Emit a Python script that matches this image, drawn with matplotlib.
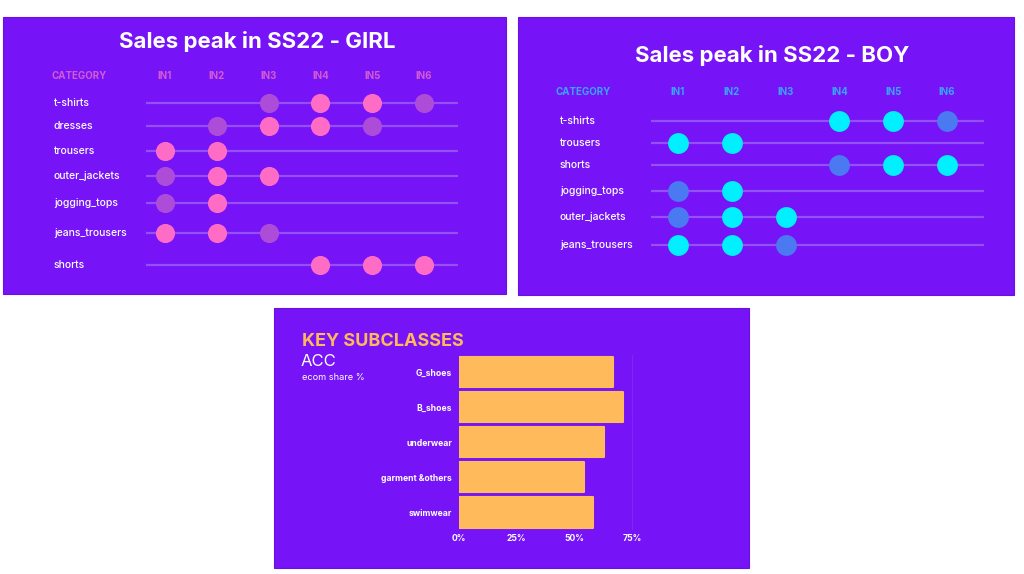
import matplotlib.pyplot as plt
from matplotlib.patches import Rectangle
from matplotlib.transforms import blended_transform_factory

plt.rcParams['font.family'] = ['Inter', 'DejaVu Sans']

# DATA
intervals = ["IN1", "IN2", "IN3", "IN4", "IN5", "IN6"]

# 2 = sales peak, 1 = weaker peak, 0 = nothing
girl_categories = ["t-shirts", "dresses", "trousers", "outer_jackets",
                   "jogging_tops", "jeans_trousers", "shorts"]
girl_peaks = [
    [0, 0, 1, 2, 2, 1],
    [0, 1, 2, 2, 1, 0],
    [2, 2, 0, 0, 0, 0],
    [1, 2, 2, 0, 0, 0],
    [1, 2, 0, 0, 0, 0],
    [2, 2, 1, 0, 0, 0],
    [0, 0, 0, 2, 2, 2],
]

boy_categories = ["t-shirts", "trousers", "shorts", "jogging_tops",
                  "outer_jackets", "jeans_trousers"]
boy_peaks = [
    [0, 0, 0, 2, 2, 1],
    [2, 2, 0, 0, 0, 0],
    [0, 0, 0, 1, 2, 2],
    [1, 2, 0, 0, 0, 0],
    [1, 2, 2, 0, 0, 0],
    [2, 2, 1, 0, 0, 0],
]

acc_subclasses = ["G_shoes", "B_shoes", "underwear", "garment &others", "swimwear"]
acc_share = [66.7, 71.0, 62.8, 54.2, 58.0]
share_ticks = [0, 25, 50, 75]

# LAYOUT (pixels)
W, H = 1024, 574
bg = "#7613F7"
line_col = "#9350F2"
girl_row_y = [103, 126, 151, 176, 203, 233, 265]
boy_row_y = [121, 143, 165, 191, 217, 245]


def box(x0, y0, x1, y1):
    return [x0 / W, 1 - y1 / H, (x1 - x0) / W, (y1 - y0) / H]


fig = plt.figure(figsize=(W / 100, H / 100), dpi=100)
fig.patch.set_facecolor("white")

for (x0, y0, x1, y1) in [(3, 17, 506, 294), (518, 17, 1014, 295), (274, 308, 749, 568)]:
    fig.patches.append(Rectangle((x0 / W, 1 - y1 / H), (x1 - x0) / W, (y1 - y0) / H,
                                 transform=fig.transFigure, facecolor=bg,
                                 edgecolor="#6A10E0", lw=0.8, zorder=-1))


def dot_panel(ax_box, col0, col_step, row_y, cats, peaks,
              head_y, head_col, cat_x, label_x, title, title_xy, bright, faint, size):
    x0, y0, x1, y1 = ax_box
    ax = fig.add_axes(box(*ax_box))
    ax.set_xlim((x0 - col0) / col_step, (x1 - col0) / col_step)
    ax.set_ylim(y1, y0)
    ax.axis("off")
    ax.hlines(row_y, *ax.get_xlim(), color=line_col, lw=1.6, zorder=1)
    for r, row in enumerate(peaks):
        for c, v in enumerate(row):
            if v:
                ax.scatter(c, row_y[r], s=size, marker="o",
                           color=bright if v == 2 else faint, lw=0, zorder=3)
    for c, lab in enumerate(intervals):
        ax.text(c, head_y, lab, color=head_col, fontsize=7, fontweight="bold",
                ha="center", va="center")
    tr = blended_transform_factory(fig.transFigure, ax.transData)
    for r, lab in enumerate(cats):
        ax.text(label_x / W, row_y[r], lab, transform=tr, color="white",
                fontsize=7.5, fontweight=500, ha="left", va="center")
    ax.text(cat_x / W, head_y, "CATEGORY", transform=tr, color=head_col,
            fontsize=7, fontweight="bold", ha="left", va="center")
    fig.text(title_xy[0] / W, 1 - title_xy[1] / H, title, color="white",
             fontsize=16, fontweight="bold", ha="center", va="center")


# GIRL panel
dot_panel((146, 60, 458, 285), 165, 51.8, girl_row_y,
          girl_categories, girl_peaks, 76, "#D35CD3", 51, 54,
          "Sales peak in SS22 - GIRL", (257, 41), "#FF6CC6", "#AD4CD8", 190)

# BOY panel
dot_panel((651, 75, 984, 270), 678, 53.8, boy_row_y,
          boy_categories, boy_peaks, 92, "#3AA6F7", 556, 560,
          "Sales peak in SS22 - BOY", (772, 56), "#00F0FF", "#4A79F1", 225)

# ACC bar panel
axb = fig.add_axes(box(459, 354.5, 459 + 80 * (632 - 459) / 75, 530))
axb.set_facecolor("none")
axb.axvline(75, color="#8226F8", lw=0.8, zorder=0)
bars = axb.barh(range(len(acc_subclasses)), acc_share, height=0.86,
                color="#FFBA5C", edgecolor="#FFBA5C", lw=1.5, zorder=2)
for b in bars:
    b.set_joinstyle("round")
axb.set_xlim(0, 80)
axb.set_ylim(len(acc_subclasses) - 0.5, -0.5)
axb.set_yticks(range(len(acc_subclasses)), acc_subclasses)
axb.set_xticks(share_ticks, [f"{t}%" for t in share_ticks])
axb.tick_params(length=0, colors="white", labelsize=6.2)
axb.tick_params(axis="y", pad=5)
axb.tick_params(axis="x", pad=3)
for lab in axb.get_xticklabels() + axb.get_yticklabels():
    lab.set_fontweight("bold")
for s in axb.spines.values():
    s.set_visible(False)

fig.text(302 / W, 1 - 341 / H, "KEY SUBCLASSES", color="#FFB85C", fontsize=13,
         fontweight="bold", ha="left", va="center")
fig.text(301 / W, 1 - 362 / H, "ACC", color="white", fontsize=12,
         ha="left", va="center")
fig.text(302 / W, 1 - 377 / H, "ecom share %", color="white", fontsize=6.6,
         ha="left", va="center")

fig.savefig("out.png", dpi=100, facecolor=fig.get_facecolor())
